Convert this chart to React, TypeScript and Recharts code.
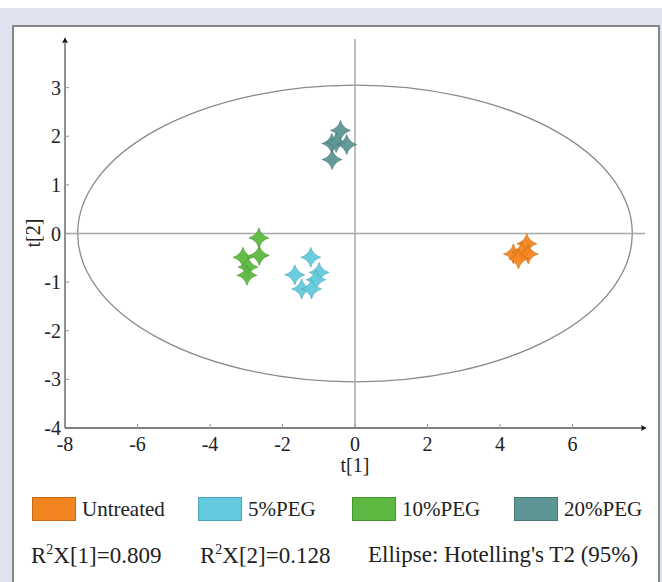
import React from "react";
import {
  ReferenceArea,
  ReferenceLine,
  Scatter,
  ScatterChart,
  XAxis,
  YAxis,
} from "recharts";

// scores, t[1] / t[2]
const untreated = [
  { t1: 4.74, t2: -0.21 },
  { t1: 4.37, t2: -0.42 },
  { t1: 4.6, t2: -0.38 },
  { t1: 4.78, t2: -0.42 },
  { t1: 4.51, t2: -0.52 },
];
const peg5 = [
  { t1: -1.22, t2: -0.49 },
  { t1: -1.66, t2: -0.85 },
  { t1: -0.99, t2: -0.8 },
  { t1: -1.08, t2: -0.95 },
  { t1: -1.47, t2: -1.14 },
  { t1: -1.2, t2: -1.14 },
];
const peg10 = [
  { t1: -2.65, t2: -0.09 },
  { t1: -3.09, t2: -0.49 },
  { t1: -2.64, t2: -0.45 },
  { t1: -2.95, t2: -0.69 },
  { t1: -2.98, t2: -0.86 },
];
const peg20 = [
  { t1: -0.4, t2: 2.12 },
  { t1: -0.64, t2: 1.85 },
  { t1: -0.52, t2: 1.87 },
  { t1: -0.23, t2: 1.83 },
  { t1: -0.63, t2: 1.52 },
];

const xTicks = [-8, -6, -4, -2, 0, 2, 4, 6];
const yTicks = [-4, -3, -2, -1, 0, 1, 2, 3];
// Hotelling's T2 (95%) ellipse half-axes
const ellipseA = 7.65;
const ellipseB = 3.05;

const groups = [
  { name: "Untreated", data: untreated, color: "#f38521", edge: "#c86a14" },
  { name: "5%PEG", data: peg5, color: "#63c9dc", edge: "#4aa6b8" },
  { name: "10%PEG", data: peg10, color: "#5cb840", edge: "#46952e" },
  { name: "20%PEG", data: peg20, color: "#5c9594", edge: "#467776" },
];

const serif = "'Liberation Serif', 'Times New Roman', serif";

const Star = (props: any) => {
  const { cx, cy, fill, stroke } = props;
  const r = 10;
  const k = 2.2;
  const d = `M${cx},${cy - r} Q${cx + k},${cy - k} ${cx + r},${cy} Q${cx + k},${cy + k} ${cx},${cy + r} Q${cx - k},${cy + k} ${cx - r},${cy} Q${cx - k},${cy - k} ${cx},${cy - r} Z`;
  return <path d={d} fill={fill} stroke={stroke} strokeWidth={0.6} fillOpacity={0.95} />;
};

const XTick = (props: any) => {
  const { x, y, payload } = props;
  return (
    <g>
      {payload.value !== -8 && (
        <line x1={x} x2={x} y1={y} y2={y - 4} stroke="#999" strokeWidth={1} />
      )}
      <text x={x} y={y + 23} textAnchor="middle" fontSize={20} fontFamily={serif} fill="#222">
        {payload.value}
      </text>
    </g>
  );
};

const YTick = (props: any) => {
  const { x, y, payload } = props;
  return (
    <g>
      {payload.value !== -4 && (
        <line x1={x} x2={x + 4} y1={y} y2={y} stroke="#999" strokeWidth={1} />
      )}
      <text x={x - 4} y={y + 7} textAnchor="end" fontSize={20} fontFamily={serif} fill="#222">
        {payload.value}
      </text>
    </g>
  );
};

const EllipseShape = (props: any) => {
  const { x, y, width, height } = props;
  return (
    <ellipse
      cx={x + width / 2}
      cy={y + height / 2}
      rx={width / 2}
      ry={height / 2}
      fill="none"
      stroke="#8a8a8a"
      strokeWidth={1.3}
    />
  );
};

const bottomText: React.CSSProperties = {
  position: "absolute",
  top: 542,
  fontSize: 23,
  color: "#222",
  whiteSpace: "nowrap",
};

export default function App() {
  return (
    <div
      style={{
        position: "absolute",
        left: 0,
        top: 0,
        width: 662,
        height: 582,
        background: "#fff",
        overflow: "hidden",
        fontFamily: serif,
      }}
    >
      <div style={{ position: "absolute", left: 0, top: 8, width: 662, height: 574, background: "#dfe3f0" }} />
      <div
        style={{
          position: "absolute",
          left: 12,
          top: 25,
          width: 644,
          height: 570,
          background: "#fff",
          borderLeft: "2px solid #868686",
          borderTop: "2px solid #868686",
          borderRight: "2px solid #868686",
        }}
      />
      <div style={{ position: "absolute", left: 0, top: 0 }}>
        <ScatterChart width={662} height={582} margin={{ top: 39, right: 17, bottom: 114, left: 20 }}>
          <defs>
            <marker
              id="arrowHead"
              viewBox="0 0 10 10"
              refX="7"
              refY="5"
              markerWidth="10"
              markerHeight="6"
              markerUnits="userSpaceOnUse"
              orient="auto-start-reverse"
            >
              <path d="M0,0 L10,5 L0,10 L2,5 Z" fill="#111" />
            </marker>
          </defs>
          <XAxis
            type="number"
            dataKey="t1"
            domain={[-8, 8]}
            ticks={xTicks}
            interval={0}
            height={40}
            tickSize={0}
            tickMargin={0}
            tick={<XTick />}
            axisLine={{ stroke: "#555", strokeWidth: 1.3, markerEnd: "url(#arrowHead)" }}
            allowDataOverflow
          />
          <YAxis
            type="number"
            dataKey="t2"
            domain={[-4, 4]}
            ticks={yTicks}
            interval={0}
            width={45}
            tickSize={0}
            tickMargin={0}
            tick={<YTick />}
            axisLine={{ stroke: "#555", strokeWidth: 1.3, markerStart: "url(#arrowHead)" }}
            allowDataOverflow
          />
          <ReferenceArea
            x1={-ellipseA}
            x2={ellipseA}
            y1={-ellipseB}
            y2={ellipseB}
            shape={<EllipseShape />}
            ifOverflow="visible"
          />
          <ReferenceLine x={0} stroke="#a8a8a8" strokeWidth={1.5} />
          <ReferenceLine y={0} stroke="#a8a8a8" strokeWidth={1.5} />
          {groups.map((g) => (
            <Scatter
              key={g.name}
              name={g.name}
              data={g.data}
              fill={g.color}
              stroke={g.edge}
              shape={<Star />}
              isAnimationActive={false}
            />
          ))}
          <text x={355} y={472} textAnchor="middle" fontSize={20} fontFamily={serif} fill="#222">
            t[1]
          </text>
          <text
            x={40}
            y={233}
            textAnchor="middle"
            fontSize={20}
            fontFamily={serif}
            fill="#222"
            transform="rotate(-90 40 233)"
          >
            t[2]
          </text>
        </ScatterChart>
      </div>
      {groups.map((g, i) => {
        const lefts = [32, 198, 352, 514];
        return (
          <div key={g.name} style={{ position: "absolute", left: lefts[i], top: 497, display: "flex", alignItems: "center" }}>
            <div style={{ width: 42, height: 22, background: g.color, border: `1px solid ${g.edge}` }} />
            <span style={{ marginLeft: 6, fontSize: 21, color: "#222", lineHeight: "24px" }}>{g.name}</span>
          </div>
        );
      })}
      <div style={{ ...bottomText, left: 31 }}>
        R<sup style={{ fontSize: 14 }}>2</sup>X[1]=0.809
      </div>
      <div style={{ ...bottomText, left: 200 }}>
        R<sup style={{ fontSize: 14 }}>2</sup>X[2]=0.128
      </div>
      <div style={{ ...bottomText, left: 368 }}>Ellipse: Hotelling's T2 (95%)</div>
    </div>
  );
}
